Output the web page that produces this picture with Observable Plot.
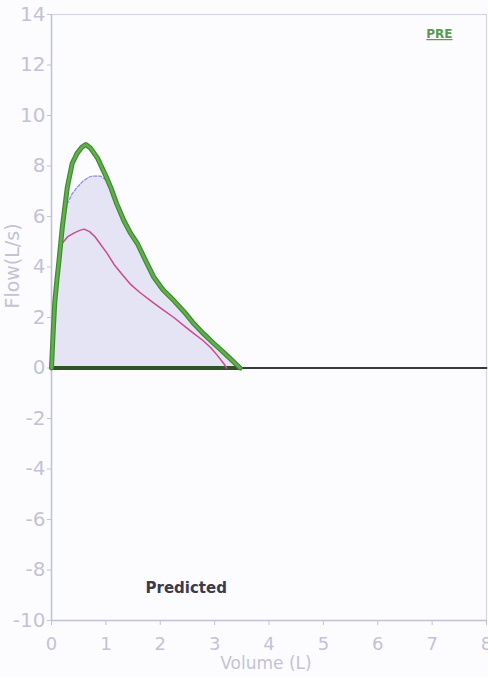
<!DOCTYPE html>
<html>
<head>
<meta charset="utf-8">
<script src="https://cdn.jsdelivr.net/npm/d3@7"></script>
<script src="https://cdn.jsdelivr.net/npm/@observablehq/plot@0.6"></script>
<style>
  html, body { margin: 0; padding: 0; background: #ffffff; }
  #chart { width: 488px; height: 677px; }
  .pre-label text { text-decoration: underline; }
</style>
</head>
<body>
<div id="chart"></div>
<script>
// ---- Data ----
const xTicks = [0, 1, 2, 3, 4, 5, 6, 7, 8];
const yTicks = [-10, -8, -6, -4, -2, 0, 2, 4, 6, 8, 10, 12, 14];

// Measured curve (thick green)
const greenVol  = [0, 0.03, 0.06, 0.1, 0.14, 0.2, 0.29, 0.38, 0.47, 0.56, 0.63, 0.72, 0.85, 1.0, 1.09, 1.2, 1.33, 1.45, 1.58, 1.72, 1.88, 2.05, 2.25, 2.45, 2.62, 2.8, 2.99, 3.2, 3.42, 3.47];
const greenFlow = [0, 1.4, 2.6, 3.5, 4.3, 5.6, 7.15, 8.1, 8.5, 8.75, 8.85, 8.7, 8.3, 7.6, 7.15, 6.5, 5.84, 5.35, 4.93, 4.3, 3.6, 3.1, 2.67, 2.2, 1.75, 1.35, 0.96, 0.55, 0.1, 0];

// Predicted curve (thin blue, filled)
const blueVol  = [0, 0.04, 0.1, 0.16, 0.22, 0.29, 0.38, 0.47, 0.58, 0.68, 0.75, 0.82, 0.9, 1.0, 1.09, 1.2, 1.33, 1.58, 1.88, 2.25, 2.62, 2.99, 3.2, 3.42, 3.45];
const blueFlow = [0, 1.6, 3.2, 4.6, 5.7, 6.5, 6.9, 7.15, 7.4, 7.55, 7.6, 7.6, 7.6, 7.45, 7.05, 6.4, 5.75, 4.85, 3.5, 2.6, 1.7, 0.9, 0.5, 0.05, 0];

// Second trial (thin magenta)
const magVol  = [0, 0.02, 0.05, 0.08, 0.11, 0.15, 0.2, 0.3, 0.42, 0.52, 0.6, 0.7, 0.8, 0.9, 1.02, 1.15, 1.3, 1.46, 1.62, 1.82, 2.02, 2.25, 2.45, 2.62, 2.78, 2.93, 3.05, 3.17, 3.22];
const magFlow = [0, 1.2, 2.4, 3.4, 4.1, 4.6, 4.95, 5.2, 5.35, 5.45, 5.5, 5.4, 5.2, 4.9, 4.55, 4.1, 3.7, 3.3, 3.0, 2.67, 2.35, 2.0, 1.65, 1.36, 1.1, 0.8, 0.5, 0.17, 0];

const xLabel = "Volume (L)";
const yLabel = "Flow(L/s)";
const trialLabel = "PRE";
const predLabel = "Predicted";

// ---- Build tables ----
const toRows = (vs, fs) => vs.map((v, i) => ({v, f: fs[i]}));
const green = toRows(greenVol, greenFlow);
const blue = toRows(blueVol, blueFlow);
const mag = toRows(magVol, magFlow);
const greenBase = [{v: greenVol[0], f: 0}, {v: greenVol[greenVol.length - 1], f: 0}];
const fullBase = [{v: xTicks[0], f: 0}, {v: xTicks[xTicks.length - 1], f: 0}];

const axisColor = "#c3c3d6";
const fmt = d => `${d}`;

const chart = Plot.plot({
  width: 488,
  height: 677,
  marginLeft: 51,
  marginRight: 2,
  marginTop: 14,
  marginBottom: 57,
  style: {fontFamily: "DejaVu Sans, sans-serif", fontSize: "18px", background: "#fcfcfe", overflow: "visible"},
  x: {domain: [xTicks[0], xTicks[xTicks.length - 1]]},
  y: {domain: [yTicks[0], yTicks[yTicks.length - 1]]},
  marks: [
    Plot.frame({stroke: "#d6d6de", strokeWidth: 1.2}),
    Plot.axisY({ticks: yTicks, tickFormat: fmt, tickSize: 4, tickPadding: 2, color: axisColor, fontSize: 20, label: null}),
    Plot.axisX({ticks: xTicks, tickFormat: fmt, tickSize: 5, tickPadding: 12, color: axisColor, fontSize: 18, label: null}),
    Plot.ruleX([xTicks[0]], {stroke: axisColor, strokeWidth: 1.5}),
    Plot.ruleY([yTicks[0]], {stroke: axisColor, strokeWidth: 1.5}),
    // predicted fill + line
    Plot.areaY(blue, {x: "v", y: "f", fill: "#e4e4f4"}),
    Plot.line(blue, {x: "v", y: "f", stroke: "#8a8ee0", strokeWidth: 1.2, strokeDasharray: "3,2"}),
    // baseline
    Plot.line(fullBase, {x: "v", y: "f", stroke: "#3a3a3a", strokeWidth: 2}),
    Plot.line(greenBase, {x: "v", y: "f", stroke: "#2f5427", strokeWidth: 4}),
    // magenta trial
    Plot.line(mag, {x: "v", y: "f", stroke: "#cc4a8c", strokeWidth: 1.5}),
    // green best trial
    Plot.line(green, {x: "v", y: "f", stroke: "#3f8a35", strokeWidth: 5, strokeLinejoin: "round"}),
    Plot.line(green, {x: "v", y: "f", stroke: "#62ad4c", strokeWidth: 2.6, strokeLinejoin: "round"}),
    // labels
    Plot.text([yLabel], {frameAnchor: "left", dx: -39, dy: -9, rotate: -90, fill: axisColor, fontSize: 19}),
    Plot.text([xLabel], {frameAnchor: "bottom", dx: -3, dy: 48, fill: axisColor, fontSize: 17}),
    Plot.text([trialLabel], {frameAnchor: "top-right", dx: -34, dy: 15, fill: "#5c9a4a", fontSize: 12, fontWeight: "bold", className: "pre-label"}),
    Plot.text([predLabel], {frameAnchor: "bottom-left", dx: 94, dy: -28, fill: "#3b3b4a", fontSize: 15, fontWeight: "bold"})
  ]
});
document.getElementById("chart").appendChild(chart);
</script>
</body>
</html>
